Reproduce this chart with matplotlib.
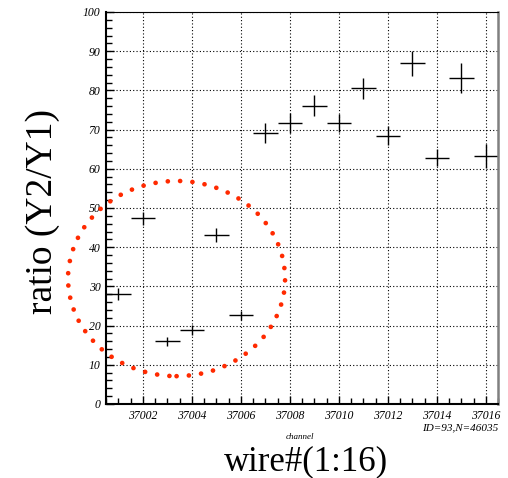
import numpy as np
import matplotlib.pyplot as plt
from matplotlib.patches import Ellipse
from matplotlib.ticker import MultipleLocator

# wire channels and measured ratio Y2/Y1
channel = [37001, 37002, 37003, 37004, 37005, 37006, 37007, 37008,
           37009, 37010, 37011, 37012, 37013, 37014, 37015, 37016]
ratio = [28.1, 47.4, 16.0, 18.9, 43.1, 22.6, 69.2, 71.7,
         76.1, 71.7, 80.5, 68.4, 86.9, 62.8, 83.2, 63.2]
ratio_err = [1.5, 1.7, 1.1, 1.3, 1.7, 1.2, 2.5, 2.5,
             2.6, 2.4, 2.6, 2.4, 3.1, 2.2, 3.9, 3.0]
channel_err = [0.5] * len(channel)

plt.rcParams['font.family'] = ['Liberation Serif', 'DejaVu Serif']
plt.rcParams['font.style'] = 'italic'

fig = plt.figure(figsize=(5.08, 4.78), dpi=100)
ax = fig.add_axes([106 / 508, 74 / 478, 392 / 508, 392 / 478])

ax.errorbar(channel, ratio, xerr=channel_err, yerr=ratio_err, fmt='none',
            ecolor='black', elinewidth=1.0, capsize=0)

ax.set_xlim(37000.5, 37016.5)
ax.set_ylim(0, 100)
ax.xaxis.set_major_locator(MultipleLocator(2))
ax.xaxis.set_minor_locator(MultipleLocator(0.5))
ax.yaxis.set_major_locator(MultipleLocator(10))
ax.yaxis.set_minor_locator(MultipleLocator(2))
ax.ticklabel_format(useOffset=False, style='plain', axis='x')
ax.grid(True, which='major', color='black', linestyle=(0, (1, 2)), linewidth=0.8)
ax.tick_params(which='both', direction='in', top=False, right=False,
               labelsize=8.5, pad=4)
ax.tick_params(which='major', length=6, width=1)
ax.tick_params(which='minor', length=4, width=1)

ax.spines['left'].set_linewidth(1.5)
ax.spines['bottom'].set_linewidth(1.5)
ax.spines['top'].set_linewidth(0.8)
ax.spines['right'].set_color('#808080')
ax.spines['right'].set_linewidth(1.8)

# dotted red circle around the low channels
ell = Ellipse((37003.38, 32), width=8.86, height=49.8, fill=False,
              edgecolor='#ff2a00', linewidth=3.4,
              linestyle=(0, (0.01, 2.6)), clip_on=False, zorder=5)
ell.set_capstyle('round')
ax.add_patch(ell)

fig.text(43 / 508, 1 - 212 / 478, 'ratio (Y2/Y1)', rotation=90,
         fontsize=27, style='normal', ha='center', va='center')
fig.text(306 / 508, 1 - 462 / 478, 'wire#(1:16)', fontsize=25,
         style='normal', ha='center', va='center')
fig.text(300 / 508, 1 - 437 / 478, 'channel', fontsize=6.5,
         ha='center', va='center')
fig.text(498 / 508, 1 - 428 / 478, 'ID=93,N=46035', fontsize=8,
         ha='right', va='center')

fig.savefig('out.png', dpi=100)
